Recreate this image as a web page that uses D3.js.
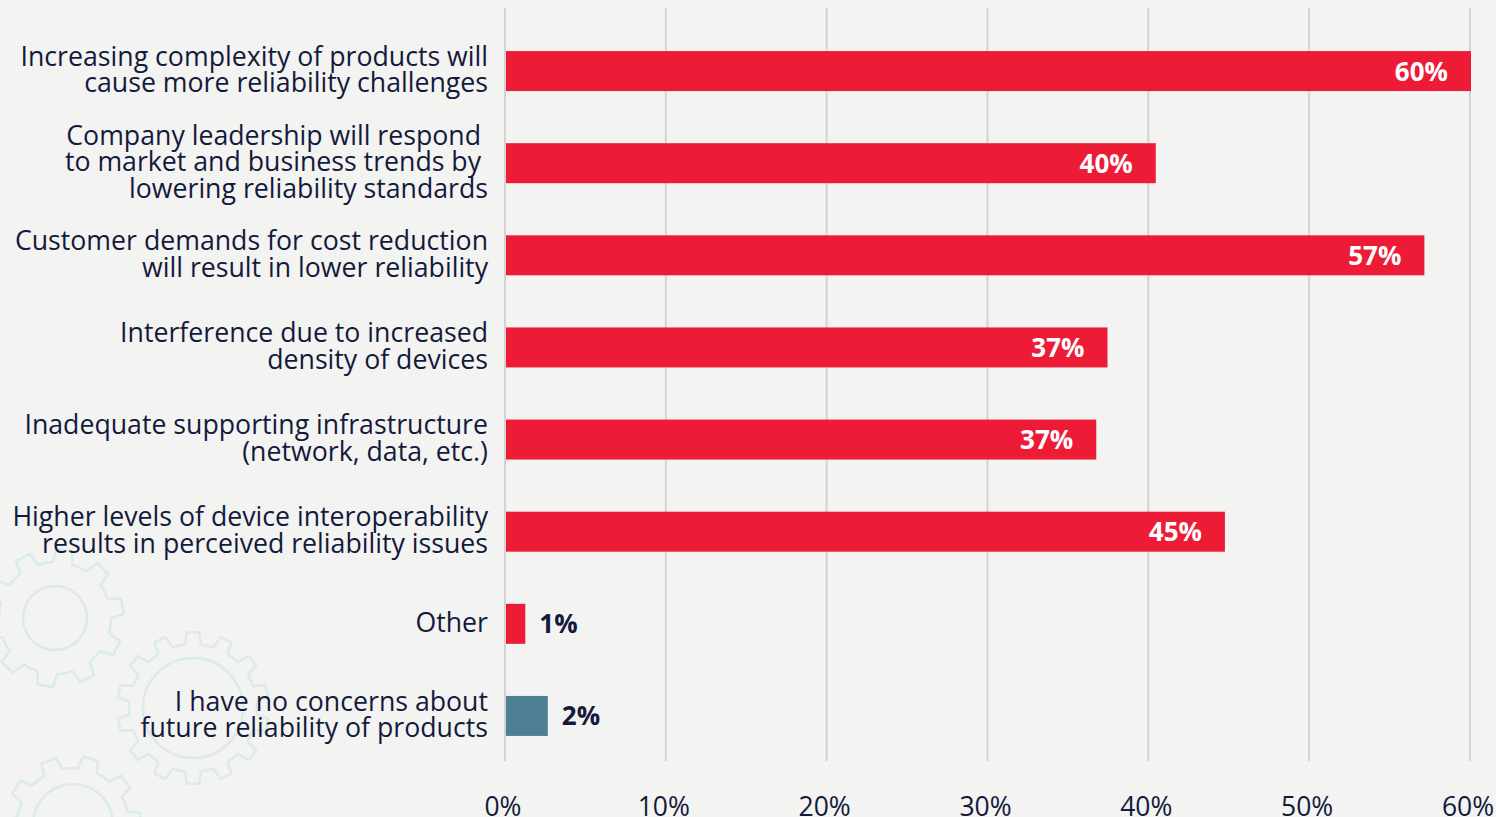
<!DOCTYPE html>
<meta charset="utf-8">
<style>
body {
  margin: 0;
  background: #f3f3f2;
  font-family: "Open Sans", "Noto Sans", sans-serif;
}
svg { display: block; }
.cat text { white-space: pre; }
</style>
<body>
<script src="https://d3js.org/d3.v7.min.js"></script>
<script>

// categories, one entry per line of the label
let categories = [
  ["Increasing complexity of products will", "cause more reliability challenges"],
  ["Company leadership will respond ", "to market and business trends by ", "lowering reliability standards"],
  ["Customer demands for cost reduction", "will result in lower reliability"],
  ["Interference due to increased", "density of devices"],
  ["Inadequate supporting infrastructure", "(network, data, etc.)"],
  ["Higher levels of device interoperability", "results in perceived reliability issues"],
  ["Other"],
  ["I have no concerns about", "future reliability of products"]
];
let values = [60.0, 40.4, 57.1, 37.4, 36.7, 44.7, 1.2, 2.6];
let valueLabels = ["60%", "40%", "57%", "37%", "37%", "45%", "1%", "2%"];
let barColors = ["#ed1b36", "#ed1b36", "#ed1b36", "#ed1b36", "#ed1b36", "#ed1b36", "#ed1b36", "#4d7f93"];
let ticks = [0, 10, 20, 30, 40, 50, 60];

let width = 1496,
    height = 817;

let svg = d3.select("body").append("svg")
  .attr("width", width)
  .attr("height", height);

/* ------- background gears -------*/
function gearPath(r0, r1, n) {
  let p = d3.path();
  let step = Math.PI * 2 / n;
  for (let i = 0; i < n; i++) {
    let a = i * step;
    let pts = [
      [r0, a], [r0, a + step * 0.22], [r1, a + step * 0.32],
      [r1, a + step * 0.68], [r0, a + step * 0.78]
    ];
    pts.forEach(function(q, j) {
      let x = q[0] * Math.cos(q[1]), y = q[0] * Math.sin(q[1]);
      if (i === 0 && j === 0) p.moveTo(x, y); else p.lineTo(x, y);
    });
  }
  p.closePath();
  return p.toString();
}

let gears = [
  { x: 55, y: 618, hole: 32, body: 56, tooth: 69, n: 10, rot: 8 },
  { x: 193, y: 708, hole: 50, body: 64, tooth: 76, n: 14, rot: 0 },
  { x: 73, y: 824, hole: 40, body: 56, tooth: 68, n: 10, rot: 15 }
];

let gg = svg.append("g").attr("class", "gears");
gears.forEach(function(g) {
  let el = gg.append("g").attr("transform", "translate(" + g.x + "," + g.y + ") rotate(" + g.rot + ")");
  el.append("path")
    .attr("d", gearPath(g.body, g.tooth, g.n))
    .attr("fill", "none")
    .attr("stroke", "#dbebe7")
    .attr("stroke-linejoin", "round")
    .attr("stroke-width", 2.5);
  el.append("circle")
    .attr("r", g.hole)
    .attr("fill", "none")
    .attr("stroke", "#dbebe7")
    .attr("stroke-width", 2.5);
});

/* ------- scales -------*/
let x = d3.scaleLinear()
  .domain([0, 60])
  .range([505, 1470]);

let y = d3.scaleBand()
  .domain(d3.range(categories.length))
  .range([25, 762])
  .paddingInner(0.566)
  .paddingOuter(0.283);

/* ------- grid -------*/
svg.append("g").selectAll("line")
  .data(ticks)
  .join("line")
  .attr("x1", d => x(d))
  .attr("x2", d => x(d))
  .attr("y1", 8)
  .attr("y2", 761)
  .attr("stroke", "#d3d3d3")
  .attr("stroke-width", 2);

svg.append("g").selectAll("text")
  .data(ticks)
  .join("text")
  .attr("x", d => x(d) - 2)
  .attr("y", 816)
  .attr("text-anchor", "middle")
  .attr("font-size", 26.5)
  .attr("fill", "#141a3b")
  .text(d => d + "%");

/* ------- bars -------*/
svg.append("g").selectAll("rect")
  .data(values)
  .join("rect")
  .attr("x", x(0) + 1)
  .attr("y", (d, i) => y(i))
  .attr("width", d => x(d) - x(0))
  .attr("height", y.bandwidth())
  .attr("fill", (d, i) => barColors[i]);

svg.append("g").selectAll("text")
  .data(values)
  .join("text")
  .attr("x", d => d > 10 ? x(d) - 22 : x(d) + 15)
  .attr("y", (d, i) => y(i) + y.bandwidth() / 2 + 9.5)
  .attr("text-anchor", d => d > 10 ? "end" : "start")
  .attr("font-size", 26)
  .attr("font-weight", 700)
  .attr("fill", d => d > 10 ? "#ffffff" : "#141a3b")
  .text((d, i) => valueLabels[i]);

/* ------- category labels -------*/
let cat = svg.append("g").attr("class", "cat").selectAll("text")
  .data(categories)
  .join("text")
  .attr("text-anchor", "end")
  .attr("font-size", 26.7)
  .attr("fill", "#141a3b");

cat.each(function(lines, i) {
  let cy = y(i) + y.bandwidth() / 2;
  d3.select(this).selectAll("tspan")
    .data(lines)
    .join("tspan")
    .attr("x", 488)
    .attr("y", (l, j) => cy + 8 + (j - (lines.length - 1) / 2) * 26.5)
    .text(l => l);
});

</script>
</body>
